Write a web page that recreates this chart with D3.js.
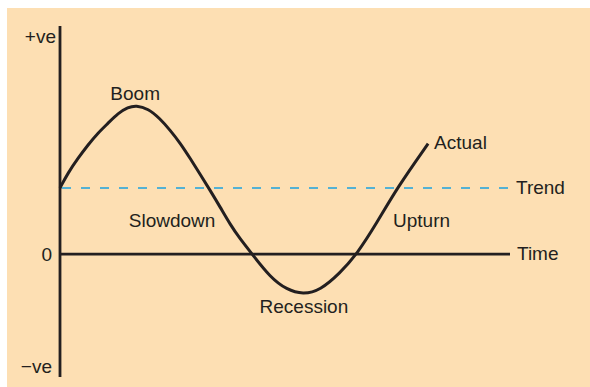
<!DOCTYPE html>
<html>
<head>
<meta charset="utf-8">
<script src="https://cdn.jsdelivr.net/npm/d3@7"></script>
<style>
  body { margin: 0; background: #ffffff; }
  svg { display: block; }
  text { font-family: "Liberation Sans", Arial, sans-serif; font-size: 19px; fill: #231f20; }
</style>
</head>
<body>
<svg></svg>
<script>
// time (arbitrary units) and activity level (trend = 1, zero = 0)
const actualTime  = [0, 0.18, 0.4, 0.62, 0.84, 1.07, 1.29, 1.51, 1.69, 1.96, 2.22, 2.44, 2.67, 2.89, 3.11, 3.33, 3.56, 3.78, 4.0, 4.27, 4.67, 5.04, 5.4, 5.78, 6.22, 6.6, 7.04, 7.49, 8.18];
const actualLevel = [1.0, 1.23, 1.45, 1.65, 1.83, 1.98, 2.13, 2.22, 2.25, 2.2, 2.05, 1.88, 1.68, 1.45, 1.21, 0.97, 0.71, 0.45, 0.23, 0, -0.35, -0.54, -0.61, -0.55, -0.29, 0, 0.47, 1.0, 1.67];
const trendLevel = 1;
const timeRange = [0, 10];
const levelRange = [-1.86, 3.45];

// phase labels placed at [time, level]
const phaseLabels = ["Boom", "Slowdown", "Recession", "Upturn"];
const phaseTime   = [1.67, 2.49, 5.42, 7.4];
const phaseLevel  = [2.33, 0.41, -0.89, 0.41];
const phaseAnchor = ["middle", "middle", "middle", "start"];

const yTickLabels = ["+ve", "0", "\u2212ve"];
const yTickLevel  = [3.2, -0.1, -1.8];

const svg = d3.select("svg");
svg.attr("width", 590).attr("height", 387);

const attrArea = { left: 60, right: 510, top: 26, bottom: 377 };

// peach panel
svg.append("rect")
  .attr("x", 7).attr("y", 8)
  .attr("width", 583).attr("height", 379)
  .attr("fill", "#fddfb3");

const scaleX = d3.scaleLinear().domain(timeRange).range([attrArea.left, attrArea.right]);
const scaleY = d3.scaleLinear().domain(levelRange).range([attrArea.bottom, attrArea.top]);

// trend (dashed)
svg.append("line")
  .attr("x1", scaleX(timeRange[0]) + 2).attr("x2", scaleX(timeRange[1]))
  .attr("y1", scaleY(trendLevel)).attr("y2", scaleY(trendLevel))
  .attr("stroke", "#1ba3e0")
  .attr("stroke-width", 1.6)
  .attr("stroke-dasharray", "9,10");

// zero line (time axis)
svg.append("line")
  .attr("x1", scaleX(timeRange[0])).attr("x2", scaleX(timeRange[1]))
  .attr("y1", scaleY(0)).attr("y2", scaleY(0))
  .attr("stroke", "#231f20")
  .attr("stroke-width", 2.8);

// vertical axis
svg.append("line")
  .attr("x1", scaleX(0)).attr("x2", scaleX(0))
  .attr("y1", scaleY(levelRange[1])).attr("y2", scaleY(levelRange[0]))
  .attr("stroke", "#231f20")
  .attr("stroke-width", 2.8);

// actual curve (smoothed through the read points)
const actual = actualTime.map((t, i) => ({ t: t, v: actualLevel[i] }));
const line = d3.line()
  .x(d => scaleX(d.t))
  .y(d => scaleY(d.v))
  .curve(d3.curveBasis);

svg.append("path")
  .datum(actual)
  .attr("fill", "none")
  .attr("stroke", "#231f20")
  .attr("stroke-width", 3)
  .attr("d", line);

// phase labels
phaseLabels.forEach((lab, i) => {
  svg.append("text")
    .attr("x", scaleX(phaseTime[i]))
    .attr("y", scaleY(phaseLevel[i]))
    .attr("text-anchor", phaseAnchor[i])
    .text(lab);
});

// line end labels
const last = actual[actual.length - 1];
svg.append("text")
  .attr("x", scaleX(last.t) + 6)
  .attr("y", scaleY(last.v) + 5)
  .text("Actual");
svg.append("text")
  .attr("x", scaleX(timeRange[1]) + 6)
  .attr("y", scaleY(trendLevel) + 6)
  .text("Trend");
svg.append("text")
  .attr("x", scaleX(timeRange[1]) + 7)
  .attr("y", scaleY(0) + 6)
  .text("Time");

// y labels
yTickLabels.forEach((lab, i) => {
  svg.append("text")
    .attr("x", scaleX(0) - (i === 0 ? 4 : 8))
    .attr("y", scaleY(yTickLevel[i]))
    .attr("text-anchor", "end")
    .text(lab);
});
</script>
</body>
</html>
